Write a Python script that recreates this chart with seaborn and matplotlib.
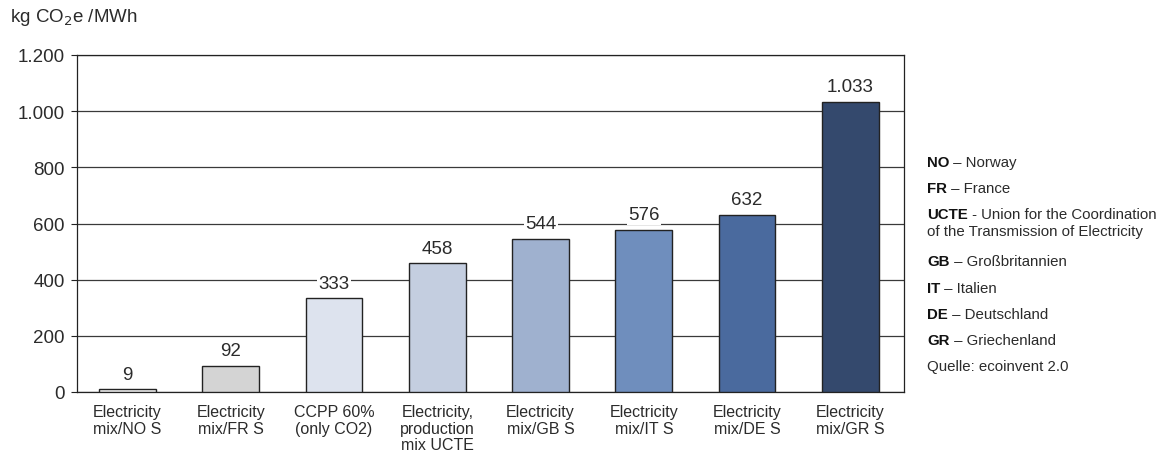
import numpy as np
import pandas as pd
import seaborn as sns
import matplotlib.pyplot as plt

categories = ['Electricity\nmix/NO S', 'Electricity\nmix/FR S', 'CCPP 60%\n(only CO2)',
              'Electricity,\nproduction\nmix UCTE', 'Electricity\nmix/GB S', 'Electricity\nmix/IT S',
              'Electricity\nmix/DE S', 'Electricity\nmix/GR S']
values = [9, 92, 333, 458, 544, 576, 632, 1033]
value_labels = ['9', '92', '333', '458', '544', '576', '632', '1.033']
bar_colors = ['#f2f2f2', '#d4d4d4', '#dde3ee', '#c4cee0', '#9fb1cf', '#6f8ebd', '#4a6a9e', '#34496d']
y_ticks = [0, 200, 400, 600, 800, 1000, 1200]
y_tick_labels = ['0', '200', '400', '600', '800', '1.000', '1.200']
legend_codes = ['NO', 'FR', 'UCTE', 'GB', 'IT', 'DE', 'GR']
legend_names = [' – Norway', ' – France', ' - Union for the Coordination', ' – Großbritannien',
                ' – Italien', ' – Deutschland', ' – Griechenland']
source = 'Quelle: ecoinvent 2.0'

sns.set_style('white')
plt.rcParams['font.family'] = ['Liberation Sans', 'DejaVu Sans']
txt = '#2b2b2b'

df = pd.DataFrame({'cat': categories, 'val': values})

fig = plt.figure(figsize=(11.59, 4.64), dpi=100)
ax = fig.add_axes([77 / 1159, 71 / 464, 827 / 1159, 337 / 464])
sns.barplot(data=df, x='cat', y='val', hue='cat', palette=bar_colors, legend=False,
            width=0.55, edgecolor='#222222', linewidth=1.0, saturation=1, ax=ax, zorder=3)

ax.set_ylim(0, 1200)
ax.set_xlim(-0.49, 7.52)
ax.set_yticks(y_ticks)
ax.set_yticklabels(y_tick_labels, fontsize=13.5, color=txt)
ax.set_xticks(range(len(categories)))
ax.set_xticklabels(categories, fontsize=11.5, color=txt, linespacing=1.1)
ax.tick_params(axis='x', length=0, pad=9)
ax.tick_params(axis='y', length=4, width=0.8, color='#222222', direction='out', left=True, pad=5)
ax.set_xlabel('')
ax.set_ylabel('')
ax.grid(axis='y', color='#3a3a3a', linewidth=0.9, zorder=0)
for s in ax.spines.values():
    s.set_color('#222222')
    s.set_linewidth(0.9)

for i, (v, lab) in enumerate(zip(values, value_labels)):
    ax.annotate(lab, (i, v), xytext=(0, 11), textcoords='offset points', ha='center', va='center',
                fontsize=13.5, color=txt,
                bbox=dict(facecolor='white', edgecolor='none', pad=1), zorder=4)

fig.text(10 / 1159, 1 - 18 / 464, 'kg CO$_2$e /MWh', fontsize=13.5, color=txt, va='center')

# side legend with bold codes
fig.canvas.draw()
renderer = fig.canvas.get_renderer()
ys = [163, 189, 215, 262, 289, 315, 341]
x0 = 927
fs = 10.8
for code, name, y in zip(legend_codes, legend_names, ys):
    t = fig.text(x0 / 1159, 1 - y / 464, code, fontsize=fs, fontweight='bold', color='#111111', va='center')
    bb = t.get_window_extent(renderer)
    fig.text(bb.x1 / (fig.dpi * 11.59), 1 - y / 464, name, fontsize=fs, color=txt, va='center')
fig.text(x0 / 1159, 1 - 232 / 464, 'of the Transmission of Electricity', fontsize=fs, color=txt, va='center')
fig.text(x0 / 1159, 1 - 367 / 464, source, fontsize=fs, color=txt, va='center')

fig.savefig('out.png', dpi=100)
